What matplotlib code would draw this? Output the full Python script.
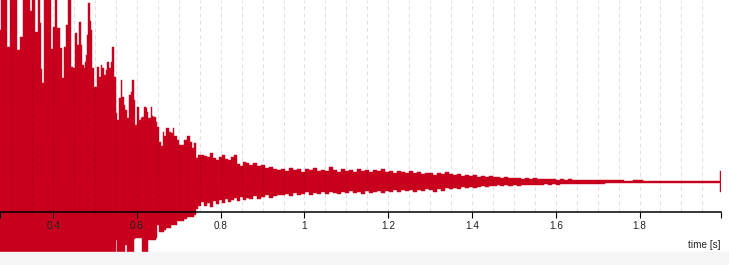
import numpy as np
import matplotlib.pyplot as plt
from matplotlib.patches import Rectangle

plt.rcParams['font.family'] = ['Liberation Sans', 'DejaVu Sans']
plt.rcParams['lines.scale_dashes'] = False

# envelope of the decaying signal (time in s, amplitude in arbitrary units)
time_s = [0.273, 0.278, 0.285, 0.294, 0.302, 0.309, 0.318, 0.325, 0.333, 0.340,
          0.347, 0.354, 0.361, 0.366, 0.371, 0.373, 0.375, 0.380, 0.387, 0.394,
          0.397, 0.402, 0.406, 0.414, 0.418, 0.423, 0.428, 0.433, 0.437, 0.442,
          0.444, 0.449, 0.454, 0.459, 0.464, 0.468, 0.471, 0.475, 0.478, 0.480,
          0.483, 0.485, 0.490, 0.492, 0.494, 0.499, 0.504, 0.506, 0.511, 0.516,
          0.518, 0.523, 0.528, 0.530, 0.535, 0.540, 0.542, 0.547, 0.552, 0.554,
          0.559, 0.564, 0.566, 0.571, 0.573, 0.578, 0.583, 0.587, 0.590, 0.594,
          0.599, 0.602, 0.606, 0.611, 0.614, 0.618, 0.623, 0.625, 0.630, 0.635,
          0.637, 0.642, 0.647, 0.649, 0.654, 0.659, 0.663, 0.668, 0.673, 0.678,
          0.683, 0.687, 0.692, 0.697, 0.702, 0.709, 0.716, 0.723, 0.728, 0.733,
          0.740, 0.744, 0.749, 0.756, 0.763, 0.771, 0.778, 0.785, 0.792, 0.799,
          0.806, 0.813, 0.821, 0.828, 0.835, 0.842, 0.849, 0.856, 0.863, 0.873,
          0.883, 0.892, 0.902, 0.911, 0.921, 0.930, 0.940,
          0.949, 0.959, 0.968, 0.978, 0.987, 0.997, 1.006, 1.016, 1.025, 1.035,
          1.044, 1.054, 1.063, 1.073, 1.082, 1.092, 1.102, 1.111, 1.121, 1.130,
          1.140, 1.149, 1.159, 1.168, 1.178, 1.187, 1.197, 1.206, 1.216, 1.225,
          1.235, 1.244, 1.254, 1.263, 1.273, 1.282, 1.292, 1.301, 1.311, 1.321,
          1.330, 1.340, 1.349, 1.359, 1.368, 1.378, 1.387, 1.397, 1.406, 1.416,
          1.425, 1.435, 1.444, 1.454, 1.463, 1.473, 1.482, 1.492, 1.502, 1.511,
          1.521, 1.530, 1.540, 1.549, 1.559, 1.568, 1.578, 1.587, 1.597, 1.606,
          1.616, 1.625, 1.635, 1.644, 1.654, 1.668, 1.683, 1.697, 1.711, 1.725,
          1.740, 1.754, 1.773, 1.797, 1.821, 1.844, 1.868, 1.892, 1.916, 1.940,
          1.963, 1.990, 1.9945]

upper = [1.52, 2.0, 2.0, 1.35, 2.0, 2.0, 1.32, 1.45, 2.0, 2.0,
         1.71, 2.0, 1.50, 2.0, 1.59, 1.13, 0.99, 2.0, 2.0, 2.0,
         1.33, 1.55, 2.0, 1.54, 1.34, 1.04, 1.35, 1.57, 1.9, 1.9,
         1.15, 1.14, 1.49, 1.37, 1.60, 1.37, 1.17, 1.14, 1.20, 1.27,
         1.47, 1.79, 1.61, 1.52, 1.14, 0.95, 0.95, 1.15, 1.05, 1.17,
         1.14, 1.07, 1.12, 1.20, 1.14, 1.20, 1.35, 1.05, 0.69, 0.62,
         0.84, 1.02, 0.85, 0.77, 0.72, 0.64, 0.87, 0.90, 1.02, 0.82,
         0.57, 0.75, 0.62, 0.64, 0.65, 0.75, 0.74, 0.70, 0.64, 0.75,
         0.66, 0.65, 0.60, 0.55, 0.40, 0.36, 0.50, 0.46, 0.54, 0.50,
         0.49, 0.54, 0.46, 0.42, 0.37, 0.37, 0.42, 0.46, 0.40, 0.34,
         0.39, 0.24, 0.27, 0.27, 0.26, 0.25, 0.29, 0.24, 0.22, 0.25,
         0.27, 0.23, 0.22, 0.25, 0.27, 0.18, 0.16, 0.20, 0.19, 0.17,
         0.19, 0.16, 0.17, 0.14, 0.15, 0.13, 0.12,
         0.13, 0.11, 0.14, 0.12, 0.13, 0.10, 0.13, 0.12, 0.14, 0.11,
         0.12, 0.11, 0.15, 0.12, 0.10, 0.13, 0.11, 0.12, 0.10, 0.13,
         0.11, 0.12, 0.10, 0.12, 0.11, 0.13, 0.10, 0.11, 0.09, 0.11,
         0.10, 0.09, 0.11, 0.09, 0.10, 0.08, 0.09, 0.09, 0.07, 0.09,
         0.08, 0.10, 0.08, 0.07, 0.08, 0.06, 0.07, 0.06, 0.07, 0.05,
         0.06, 0.05, 0.06, 0.05, 0.05, 0.04, 0.05, 0.04, 0.045, 0.04,
         0.035, 0.045, 0.035, 0.04, 0.035, 0.03, 0.035, 0.03, 0.03, 0.025,
         0.03, 0.025, 0.03, 0.025, 0.02, 0.025, 0.02, 0.022, 0.018, 0.02,
         0.016, 0.018, 0.015, 0.016, 0.013, 0.014, 0.012, 0.012, 0.01, 0.01,
         0.01, 0.01, 0.11]

lower = [-1.5, -2.0, -2.0, -1.4, -2.0, -2.0, -1.3, -1.4, -2.0, -2.0,
         -1.7, -2.0, -1.5, -2.0, -1.6, -1.1, -1.0, -2.0, -2.0, -2.0,
         -1.3, -1.5, -2.0, -1.5, -1.3, -1.0, -1.3, -1.5, -1.9, -1.9,
         -1.1, -1.1, -1.5, -1.4, -1.6, -1.4, -1.2, -1.1, -1.2, -1.3,
         -1.5, -1.8, -1.6, -1.5, -1.1, -0.95, -0.95, -1.1, -1.0, -1.1,
         -1.1, -1.0, -1.1, -1.2, -1.1, -1.2, -1.3, -1.0, -0.58, -0.9,
         -0.9, -1.0, -0.9, -0.8, -0.63, -0.9, -0.9, -0.9, -1.0, -0.57,
         -0.56, -0.56, -0.56, -0.56, -0.8, -0.8, -0.8, -0.8, -0.58, -0.58,
         -0.58, -0.58, -0.56, -0.43, -0.50, -0.50, -0.50, -0.48, -0.46, -0.46,
         -0.43, -0.43, -0.43, -0.39, -0.39, -0.39, -0.37, -0.35, -0.35, -0.35,
         -0.33, -0.27, -0.24, -0.20, -0.24, -0.21, -0.25, -0.19, -0.22, -0.18,
         -0.21, -0.17, -0.20, -0.18, -0.16, -0.19, -0.15, -0.18, -0.16, -0.17,
         -0.14, -0.17, -0.15, -0.13, -0.16, -0.14, -0.13,
         -0.13, -0.12, -0.14, -0.11, -0.13, -0.12, -0.10, -0.13, -0.11, -0.12,
         -0.10, -0.12, -0.10, -0.11, -0.12, -0.10, -0.11, -0.09, -0.11, -0.10,
         -0.12, -0.09, -0.11, -0.10, -0.09, -0.11, -0.09, -0.10, -0.08, -0.10,
         -0.08, -0.09, -0.08, -0.10, -0.08, -0.09, -0.07, -0.08, -0.10, -0.07,
         -0.09, -0.06, -0.07, -0.06, -0.07, -0.05, -0.06, -0.05, -0.06, -0.05,
         -0.04, -0.05, -0.04, -0.04, -0.03, -0.04, -0.03, -0.04, -0.03, -0.035,
         -0.03, -0.03, -0.025, -0.03, -0.025, -0.03, -0.02, -0.025, -0.02, -0.025,
         -0.02, -0.02, -0.02, -0.018, -0.02, -0.015, -0.018, -0.015, -0.015, -0.012,
         -0.014, -0.012, -0.012, -0.01, -0.011, -0.01, -0.01, -0.009, -0.009, -0.009,
         -0.008, -0.008, -0.10]

tick_pos = [0.4, 0.6, 0.8, 1.0, 1.2, 1.4, 1.6, 1.8]
tick_txt = ['0.4', '0.6', '0.8', '1', '1.2', '1.4', '1.6', '1.8']

RED = '#c8001e'
AXIS_Y = -0.30

fig = plt.figure(figsize=(7.29, 2.65), dpi=100, facecolor='white')
fig.patches.append(Rectangle((0, 0), 1, 13 / 265, transform=fig.transFigure,
                             color='#f5f5f5', zorder=0))
ax = fig.add_axes([0, 13 / 265, 721 / 729, 252 / 265])

ax.fill_between(time_s, lower, upper, step='mid', facecolor=RED,
                edgecolor=RED, linewidth=0.3, zorder=1)

ax.set_xlim(time_s[0], time_s[-1])
ax.set_ylim(-0.70, 1.82)

# dashed grid, only above the axis line
grid_x = np.arange(0.30, 1.96, 0.05)
ax.vlines(grid_x, AXIS_Y, 1.82, colors='k', alpha=0.12, linewidth=0.75,
          linestyles=(0, (2.8, 2.4)), zorder=3)

for s in ['top', 'right', 'left']:
    ax.spines[s].set_visible(False)
ax.spines['bottom'].set_position(('data', AXIS_Y))
ax.spines['bottom'].set_linewidth(1.1)
ax.spines['bottom'].set_zorder(4)

ax.set_xticks([time_s[0]] + tick_pos + [time_s[-1]], [''] + tick_txt + [''])
ax.tick_params(axis='x', direction='out', length=4.3, width=0.8, pad=2,
               labelsize=7.2, labelcolor='#222')
ax.set_yticks([])

ax.text(time_s[-1], -0.63, 'time [s]', ha='right', va='center',
        fontsize=7.2, color='#222')

fig.savefig('out.png', dpi=100)
